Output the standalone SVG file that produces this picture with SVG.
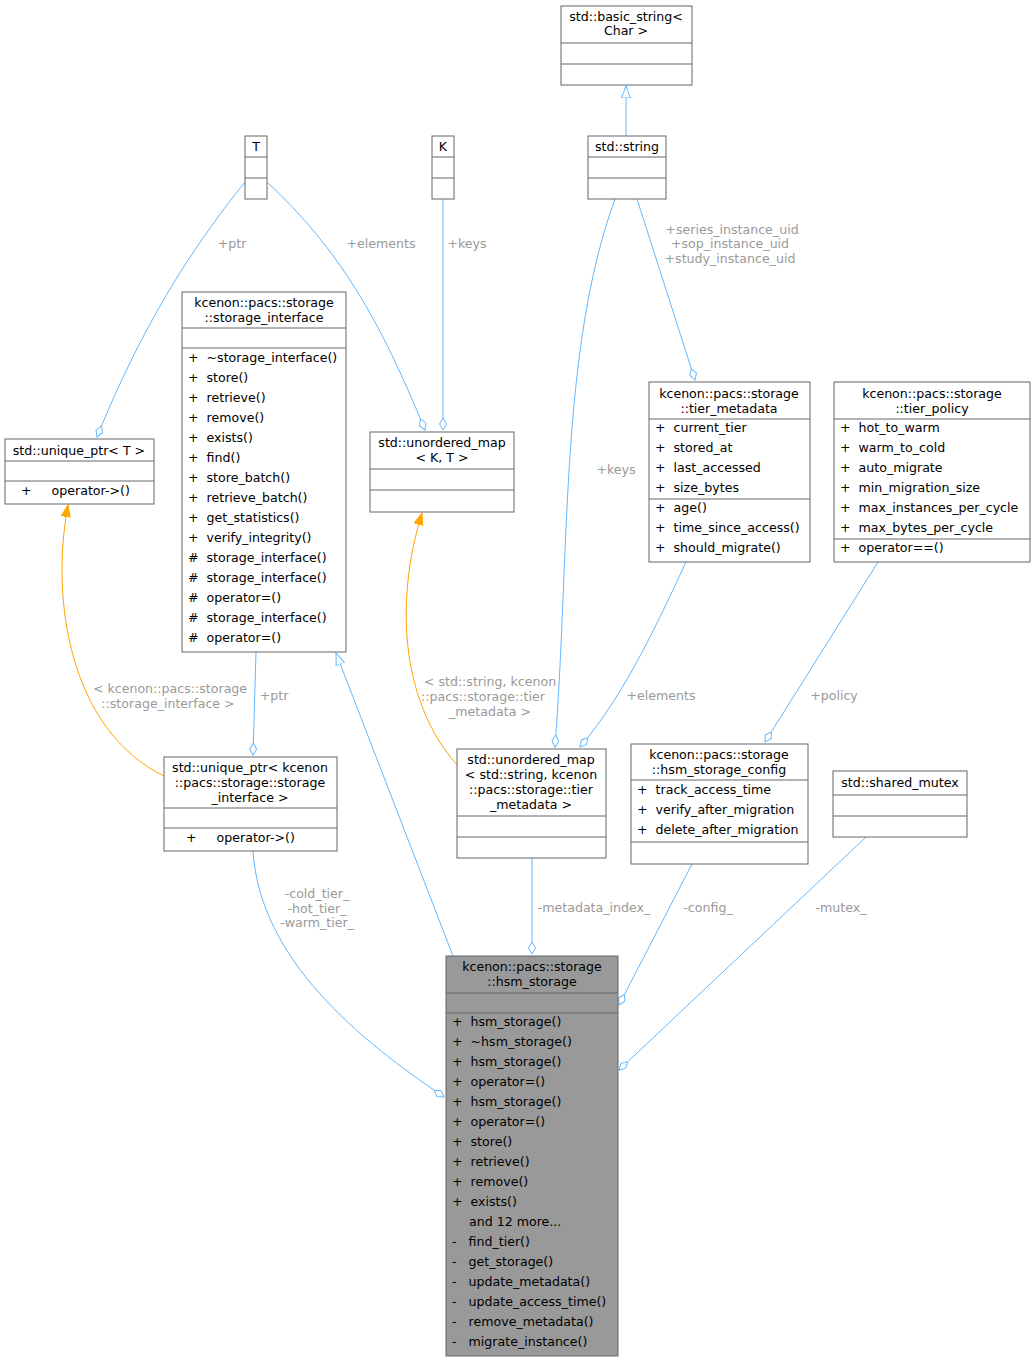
<svg xmlns="http://www.w3.org/2000/svg" width="1035" height="1361" viewBox="0 0 1035 1361">
<style>
text{font-family:"DejaVu Sans","Liberation Sans",sans-serif;font-size:12.6px;fill:#000;white-space:pre}
.c{text-anchor:middle}
.box{fill:#fff;stroke:#666;stroke-width:1}
.sep{stroke:#666;stroke-width:1}
.e{fill:none;stroke:#63b8ff;stroke-width:1}
.o{fill:none;stroke:#ffa500;stroke-width:1}
.l{fill:#9a9a9a;text-anchor:middle}
</style>
<defs>
<marker id="dia" markerUnits="userSpaceOnUse" markerWidth="14" markerHeight="10" refX="12" refY="4" orient="auto"><path d="M0,4 L6,0.5 L12,4 L6,7.5 Z" fill="#fff" stroke="#63b8ff"/></marker>
<marker id="inh" markerUnits="userSpaceOnUse" markerWidth="14" markerHeight="12" refX="12" refY="5" orient="auto"><path d="M0,0.5 L12,5 L0,9.5 Z" fill="#fff" stroke="#63b8ff"/></marker>
<marker id="tpl" markerUnits="userSpaceOnUse" markerWidth="14" markerHeight="12" refX="12" refY="5" orient="auto"><path d="M0,0.5 L12,5 L0,9.5 Z" fill="#ffa500" stroke="#ffa500"/></marker>
</defs>
<rect width="1035" height="1361" fill="#fff"/>
<g id="edges">
<path class="e" d="M626,136 L626,86" marker-end="url(#inh)"/>
<path class="e" d="M245,182 C190,250 140,330 97,437" marker-end="url(#dia)"/>
<path class="e" d="M267,182 C340,250 380,320 425,430" marker-end="url(#dia)"/>
<path class="e" d="M443,199 L443,430" marker-end="url(#dia)"/>
<path class="e" d="M637,199 L695,380" marker-end="url(#dia)"/>
<path class="e" d="M615,199 C560,350 570,550 555,747" marker-end="url(#dia)"/>
<path class="e" d="M453,956 L336,653" marker-end="url(#inh)"/>
<path class="e" d="M256,652 L253,755" marker-end="url(#dia)"/>
<path class="o" d="M164,776 C70,730 50,600 68,505" marker-end="url(#tpl)"/>
<path class="o" d="M457,765 C400,700 395,600 422,513" marker-end="url(#tpl)"/>
<path class="e" d="M686,562 C650,640 620,700 580,747" marker-end="url(#dia)"/>
<path class="e" d="M878,562 L765,742" marker-end="url(#dia)"/>
<path class="e" d="M532,858 L532,954" marker-end="url(#dia)"/>
<path class="e" d="M692,864 L619,1005" marker-end="url(#dia)"/>
<path class="e" d="M866,837 L619,1070" marker-end="url(#dia)"/>
<path class="e" d="M253,851 C260,960 360,1040 444,1097" marker-end="url(#dia)"/>
<text class="l" x="232" y="248">+ptr</text>
<text class="l" x="381" y="248">+elements</text>
<text class="l" x="467" y="248">+keys</text>
<text class="l" x="732" y="234">+series_instance_uid</text>
<text class="l" x="730" y="248">+sop_instance_uid</text>
<text class="l" x="730" y="263">+study_instance_uid</text>
<text class="l" x="616" y="474">+keys</text>
<text class="l" x="274" y="700">+ptr</text>
<text class="l" x="170" y="693">&lt; kcenon::pacs::storage</text>
<text class="l" x="168" y="708">::storage_interface &gt;</text>
<text class="l" x="490" y="686">&lt; std::string, kcenon</text>
<text class="l" x="483" y="701">::pacs::storage::tier</text>
<text class="l" x="490" y="716">_metadata &gt;</text>
<text class="l" x="661" y="700">+elements</text>
<text class="l" x="834" y="700">+policy</text>
<text class="l" x="594" y="912">-metadata_index_</text>
<text class="l" x="708" y="912">-config_</text>
<text class="l" x="841" y="912">-mutex_</text>
<text class="l" x="317" y="898">-cold_tier_</text>
<text class="l" x="317" y="913">-hot_tier_</text>
<text class="l" x="317" y="927">-warm_tier_</text>
</g>
<g id="basic_string"><rect class="box" x="561" y="6" width="131" height="79"/><text class="c" x="626" y="21">std::basic_string&lt;</text><text class="c" x="626" y="35">Char &gt;</text><path class="sep" d="M561,43H692M561,64H692"/></g>
<g id="T"><rect class="box" x="245" y="136" width="22" height="63"/><text class="c" x="256" y="151">T</text><path class="sep" d="M245,157H267M245,178H267"/></g>
<g id="K"><rect class="box" x="432" y="136" width="22" height="63"/><text class="c" x="443" y="151">K</text><path class="sep" d="M432,157H454M432,178H454"/></g>
<g id="string"><rect class="box" x="588" y="136" width="78" height="63"/><text class="c" x="627" y="151">std::string</text><path class="sep" d="M588,157H666M588,178H666"/></g>
<g id="storage_interface"><rect class="box" x="182" y="292" width="164" height="360"/><text class="c" x="264" y="307">kcenon::pacs::storage</text><text class="c" x="264" y="322">::storage_interface</text><path class="sep" d="M182,328H346M182,348H346"/>
<text x="188" y="362">+  ~storage_interface()</text><text x="188" y="382">+  store()</text><text x="188" y="402">+  retrieve()</text><text x="188" y="422">+  remove()</text><text x="188" y="442">+  exists()</text><text x="188" y="462">+  find()</text><text x="188" y="482">+  store_batch()</text><text x="188" y="502">+  retrieve_batch()</text><text x="188" y="522">+  get_statistics()</text><text x="188" y="542">+  verify_integrity()</text><text x="188" y="562">#  storage_interface()</text><text x="188" y="582">#  storage_interface()</text><text x="188" y="602">#  operator=()</text><text x="188" y="622">#  storage_interface()</text><text x="188" y="642">#  operator=()</text></g>
<g id="unique_ptr_T"><rect class="box" x="5" y="439" width="149" height="65"/><text class="c" x="79" y="455">std::unique_ptr&lt; T &gt;</text><path class="sep" d="M5,461H154M5,481H154"/><text x="21" y="495">+     operator-&gt;()</text></g>
<g id="map_KT"><rect class="box" x="370" y="432" width="144" height="80"/><text class="c" x="442" y="447">std::unordered_map</text><text class="c" x="442" y="462">&lt; K, T &gt;</text><path class="sep" d="M370,469H514M370,490H514"/></g>
<g id="tier_metadata"><rect class="box" x="649" y="382" width="161" height="180"/><text class="c" x="729" y="398">kcenon::pacs::storage</text><text class="c" x="729" y="413">::tier_metadata</text><path class="sep" d="M649,419H810M649,499H810"/>
<text x="655" y="432">+  current_tier</text><text x="655" y="452">+  stored_at</text><text x="655" y="472">+  last_accessed</text><text x="655" y="492">+  size_bytes</text><text x="655" y="512">+  age()</text><text x="655" y="532">+  time_since_access()</text><text x="655" y="552">+  should_migrate()</text></g>
<g id="tier_policy"><rect class="box" x="834" y="382" width="196" height="180"/><text class="c" x="932" y="398">kcenon::pacs::storage</text><text class="c" x="932" y="413">::tier_policy</text><path class="sep" d="M834,419H1030M834,539H1030"/>
<text x="840" y="432">+  hot_to_warm</text><text x="840" y="452">+  warm_to_cold</text><text x="840" y="472">+  auto_migrate</text><text x="840" y="492">+  min_migration_size</text><text x="840" y="512">+  max_instances_per_cycle</text><text x="840" y="532">+  max_bytes_per_cycle</text><text x="840" y="552">+  operator==()</text></g>
<g id="unique_ptr_si"><rect class="box" x="164" y="757" width="173" height="94"/><text class="c" x="250" y="772">std::unique_ptr&lt; kcenon</text><text class="c" x="250" y="787">::pacs::storage::storage</text><text class="c" x="250" y="802">_interface &gt;</text><path class="sep" d="M164,808H337M164,828H337"/><text x="186" y="842">+     operator-&gt;()</text></g>
<g id="map_meta"><rect class="box" x="457" y="749" width="149" height="109"/><text class="c" x="531" y="764">std::unordered_map</text><text class="c" x="531" y="779">&lt; std::string, kcenon</text><text class="c" x="531" y="794">::pacs::storage::tier</text><text class="c" x="531" y="809">_metadata &gt;</text><path class="sep" d="M457,816H606M457,837H606"/></g>
<g id="hsm_config"><rect class="box" x="631" y="744" width="177" height="120"/><text class="c" x="719" y="759">kcenon::pacs::storage</text><text class="c" x="719" y="774">::hsm_storage_config</text><path class="sep" d="M631,780H808M631,842H808"/>
<text x="637" y="794">+  track_access_time</text><text x="637" y="814">+  verify_after_migration</text><text x="637" y="834">+  delete_after_migration</text></g>
<g id="shared_mutex"><rect class="box" x="833" y="771" width="134" height="66"/><text class="c" x="900" y="787">std::shared_mutex</text><path class="sep" d="M833,795H967M833,816H967"/></g>
<g id="hsm_storage"><rect x="446" y="956" width="172" height="400" fill="#999" stroke="#666"/><text class="c" x="532" y="971">kcenon::pacs::storage</text><text class="c" x="532" y="986">::hsm_storage</text><path class="sep" d="M446,993H618M446,1013H618"/>
<text x="452" y="1026">+  hsm_storage()</text><text x="452" y="1046">+  ~hsm_storage()</text><text x="452" y="1066">+  hsm_storage()</text><text x="452" y="1086">+  operator=()</text><text x="452" y="1106">+  hsm_storage()</text><text x="452" y="1126">+  operator=()</text><text x="452" y="1146">+  store()</text><text x="452" y="1166">+  retrieve()</text><text x="452" y="1186">+  remove()</text><text x="452" y="1206">+  exists()</text><text x="469" y="1226">and 12 more...</text><text x="452" y="1246">-   find_tier()</text><text x="452" y="1266">-   get_storage()</text><text x="452" y="1286">-   update_metadata()</text><text x="452" y="1306">-   update_access_time()</text><text x="452" y="1326">-   remove_metadata()</text><text x="452" y="1346">-   migrate_instance()</text></g>
</svg>
